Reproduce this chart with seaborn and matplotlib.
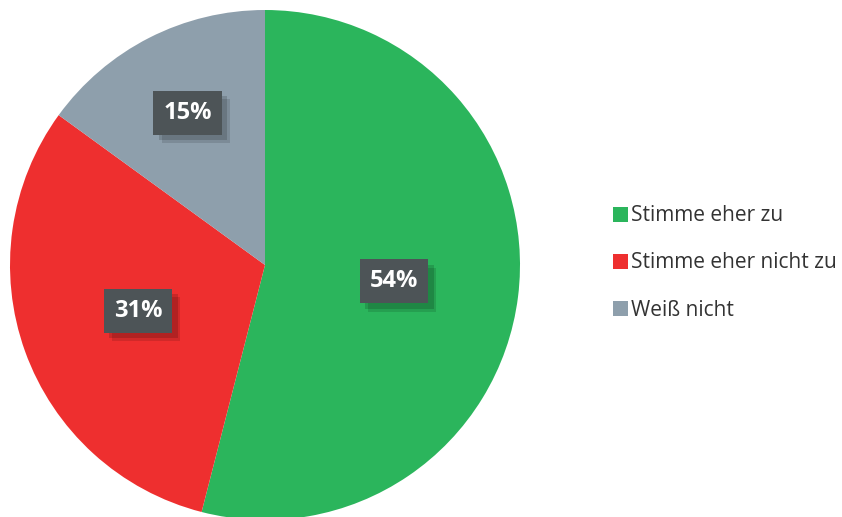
import numpy as np
import matplotlib
matplotlib.use("Agg")
import matplotlib.pyplot as plt
import matplotlib.patheffects as pe
from matplotlib.patches import Patch
import seaborn as sns

categories = ["Stimme eher zu", "Stimme eher nicht zu", "Weiß nicht"]
shares = [54, 31, 15]
pct_labels = ["54%", "31%", "15%"]

colors = ["#2BB55C", "#EE2F2F", "#8E9FAC"]
label_dist = [0.51, 0.53, 0.67]

sns.set_theme(style="white")
plt.rcParams["font.family"] = ["Open Sans", "DejaVu Sans"]

fig = plt.figure(figsize=(8.42, 5.17), dpi=100)
ax = fig.add_axes([10 / 842, -3 / 517, 510 / 842, 510 / 517])

wedges, _ = ax.pie(shares, colors=colors, startangle=90, counterclock=False,
                   radius=1.0, wedgeprops=dict(linewidth=0))
ax.set_xlim(-1, 1)
ax.set_ylim(-1, 1)
ax.set_aspect("equal")
ax.axis("off")

for w, lab, d in zip(wedges, pct_labels, label_dist):
    mid = np.deg2rad((w.theta1 + w.theta2) / 2)
    x, y = d * np.cos(mid), d * np.sin(mid)
    t = ax.text(x, y, lab, ha="center", va="center", fontsize=17,
                fontweight="bold", color="white",
                bbox=dict(boxstyle="square,pad=0.42", fc="#4D5457", ec="none"))
    # soft drop shadow, bottom right
    t.get_bbox_patch().set_path_effects([
        pe.SimplePatchShadow(offset=(6, -6), shadow_rgbFace="black", alpha=0.12),
        pe.SimplePatchShadow(offset=(4, -4), shadow_rgbFace="black", alpha=0.15),
        pe.Normal()])

handles = [Patch(facecolor=c, edgecolor="none") for c in colors]
fig.legend(handles, categories, loc="center left", bbox_to_anchor=(594 / 842, 1 - 263 / 517),
           frameon=False, fontsize=15, handlelength=0.72, handleheight=0.72,
           handletextpad=0.15, labelspacing=1.25, labelcolor="#333333")

fig.savefig("out.png", dpi=100)
